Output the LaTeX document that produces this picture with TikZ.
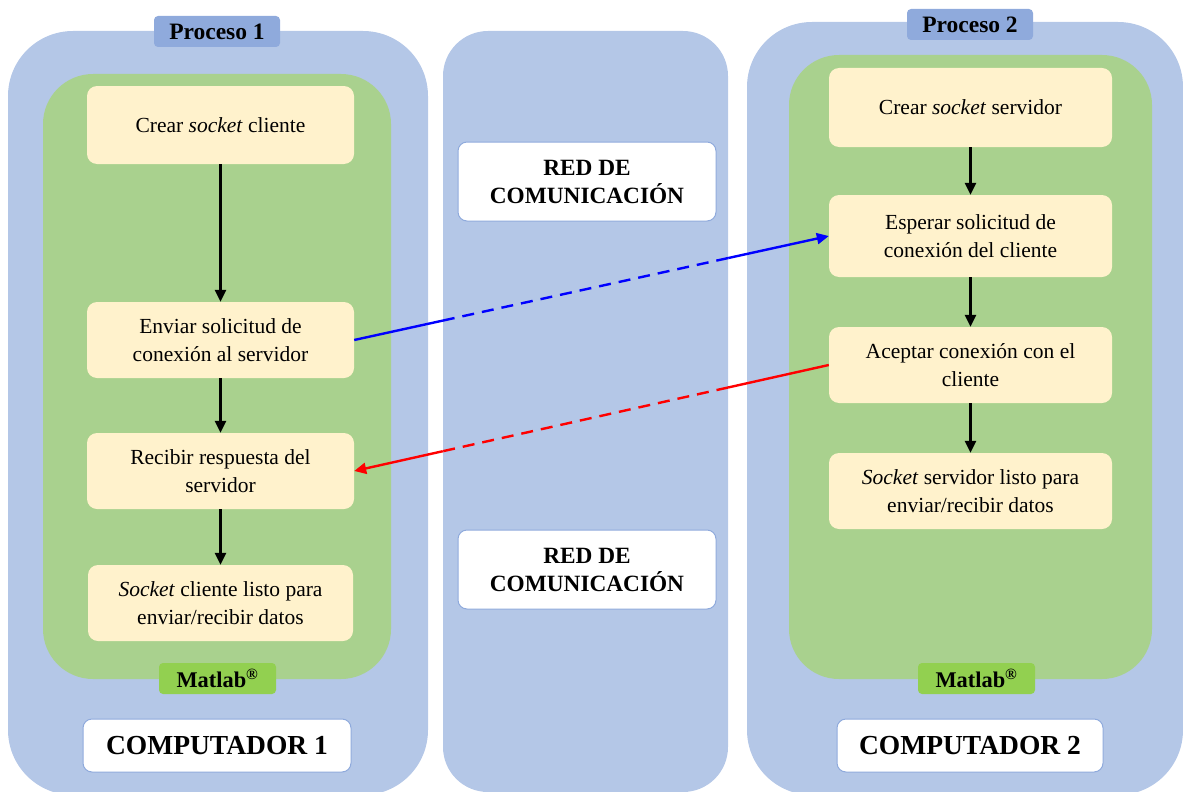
\documentclass[tikz,border=0pt]{standalone}
\usepackage{fontspec}
\setmainfont{Liberation Serif}
\usetikzlibrary{arrows.meta,intersections}

\definecolor{panelblue}{HTML}{B4C7E7}
\definecolor{tagblue}{HTML}{8FAADC}
\definecolor{appgreen}{HTML}{A9D18E}
\definecolor{matgreen}{HTML}{92D050}
\definecolor{stepfill}{HTML}{FFF2CC}

\tikzset{
  panel/.style={fill=panelblue, draw=none, rounded corners=#1, inner sep=0pt},
  apparea/.style={fill=appgreen, draw=none, rounded corners=50pt, inner sep=0pt},
  stepbox/.style={fill=stepfill, draw=none, rounded corners=10pt, inner sep=0pt,
    align=center, font=\fontsize{21.5}{28}\selectfont},
  proctag/.style={fill=tagblue, draw=none, rounded corners=4pt, inner sep=0pt,
    minimum width=126pt, minimum height=31pt, font=\fontsize{23.5}{26}\selectfont\bfseries},
  mattag/.style={fill=matgreen, draw=none, rounded corners=4pt, inner sep=0pt,
    minimum width=117pt, minimum height=31pt, font=\fontsize{22.4}{26}\selectfont\bfseries},
  labelbox/.style={fill=white, draw=tagblue, line width=1pt, rounded corners=9pt, inner sep=0pt,
    align=center},
  flow/.style={draw=black, line width=2.5pt, -{Triangle[length=12pt,width=11pt]}},
  msg/.style={line width=2.4pt},
  msgdash/.style={line width=2.4pt, dash pattern=on 12pt off 8pt},
}

\begin{document}
\begin{tikzpicture}[x=1pt,y=-1pt]
\useasboundingbox (0,0) rectangle (1183,792);

% computers and network
\node[panel=65pt, minimum width=420pt, minimum height=764pt] (pc1) at (218,413) {};
\node[panel=45pt, minimum width=285pt, minimum height=761pt] (net) at (585.5,411.5) {};
\node[panel=65pt, minimum width=436pt, minimum height=773pt] (pc2) at (965,408.5) {};

% application areas
\node[apparea, minimum width=348pt, minimum height=605pt] (app1) at (217,376.5) {};
\node[apparea, minimum width=363pt, minimum height=624pt] (app2) at (970.5,367) {};

% tags
\node[proctag] (proc1) at (217,31.5) {Proceso 1};
\node[proctag] (proc2) at (970,24.5) {Proceso 2};
\node[mattag] (mat1) at (217.5,678.5) {Matlab\textsuperscript{\textregistered}};
\node[mattag] (mat2) at (976.5,678.5) {Matlab\textsuperscript{\textregistered}};

% computer labels
\node[labelbox, minimum width=268pt, minimum height=53pt, font=\fontsize{27.5}{30}\selectfont\bfseries]
  (comp1) at (217,745.5) {COMPUTADOR 1};
\node[labelbox, minimum width=266pt, minimum height=53pt, font=\fontsize{27.5}{30}\selectfont\bfseries]
  (comp2) at (970,745.5) {COMPUTADOR 2};

% network labels
\node[labelbox, minimum width=258pt, minimum height=79pt, font=\fontsize{23.3}{28}\selectfont\bfseries]
  (red1) at (587,181.5) {RED DE\\COMUNICACIÓN};
\node[labelbox, minimum width=258pt, minimum height=79pt, font=\fontsize{23.3}{28}\selectfont\bfseries]
  (red2) at (587,569.5) {RED DE\\COMUNICACIÓN};

% client steps
\node[stepbox, minimum width=267pt, minimum height=78pt] (c1) at (220.5,125) {Crear \textit{socket} cliente};
\node[stepbox, minimum width=267pt, minimum height=76pt] (c2) at (220.5,340) {Enviar solicitud de\\conexión al servidor};
\node[stepbox, minimum width=267pt, minimum height=76pt] (c3) at (220.5,471) {Recibir respuesta del\\servidor};
\node[stepbox, minimum width=265pt, minimum height=76pt] (c4) at (220.5,603) {\textit{Socket} cliente listo para\\enviar/recibir datos};

% server steps
\node[stepbox, minimum width=283pt, minimum height=79pt] (s1) at (970.5,107.5) {Crear \textit{socket} servidor};
\node[stepbox, minimum width=283pt, minimum height=82pt] (s2) at (970.5,236) {Esperar solicitud de\\conexión del cliente};
\node[stepbox, minimum width=283pt, minimum height=76pt] (s3) at (970.5,365) {Aceptar conexión con el\\cliente};
\node[stepbox, minimum width=283pt, minimum height=76pt] (s4) at (970.5,491) {\textit{Socket} servidor listo para\\enviar/recibir datos};

% sequence inside each process
\draw[flow] (c1.south) -- (c2.north);
\draw[flow] (c2.south) -- (c3.north);
\draw[flow] (c3.south) -- (c4.north);
\draw[flow] (s1.south) -- (s2.north);
\draw[flow] (s2.south) -- (s3.north);
\draw[flow] (s3.south) -- (s4.north);

% messages across the network: dashed while inside it
\path[name path=netleft] (net.north west) -- (net.south west);
\path[name path=netright] (net.north east) -- (net.south east);
\path[name path=req] (c2.east) -- (s2.west);
\path[name path=ack] (s3.west) -- (c3.east);
\path[name intersections={of=req and netleft, by=reqa}];
\path[name intersections={of=req and netright, by=reqb}];
\path[name intersections={of=ack and netright, by=acka}];
\path[name intersections={of=ack and netleft, by=ackb}];

\draw[msg, blue] (c2.east) -- (reqa);
\draw[msgdash, blue] (reqa) -- (reqb);
\draw[msg, blue, -{Triangle[length=12pt,width=11pt]}] (reqb) -- (s2.west);

\draw[msg, red] (s3.west) -- (acka);
\draw[msgdash, red] (acka) -- (ackb);
\draw[msg, red, -{Triangle[length=12pt,width=11pt]}] (ackb) -- (c3.east);
\end{tikzpicture}
\end{document}
